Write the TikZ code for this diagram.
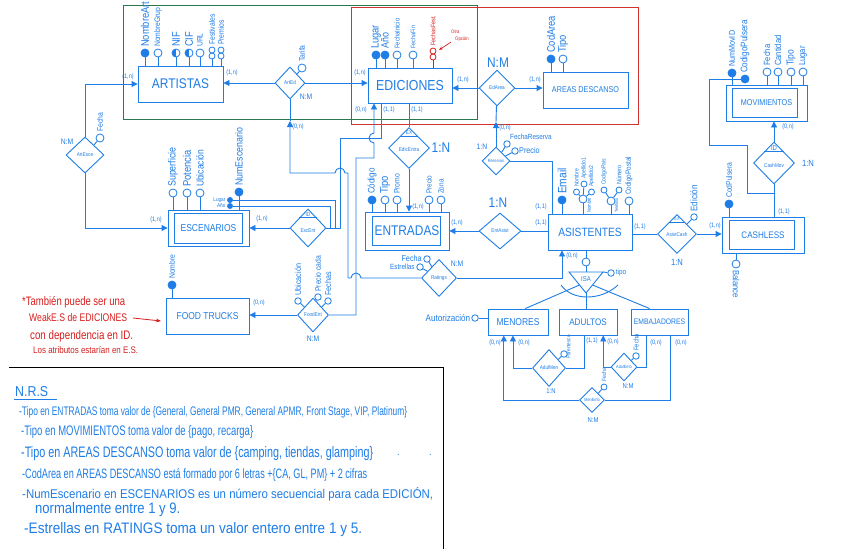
\documentclass[tikz,border=0pt]{standalone}
\usepackage{fontspec}
\setmainfont{Liberation Sans}[FakeStretch=0.85]
\usetikzlibrary{shapes.geometric,arrows.meta,calc}
\definecolor{blu}{RGB}{30,125,230}
\definecolor{grn}{RGB}{40,120,80}
\definecolor{redb}{RGB}{210,50,50}
\definecolor{redt}{RGB}{215,30,30}
\newcommand{\fs}[1]{\fontsize{#1}{#1}\selectfont}
\tikzset{
  ln/.style={draw=blu, line width=0.9pt},
  arr/.style={ln, -{Triangle[length=6pt,width=6pt]}},
  ent/.style={draw=blu, line width=0.9pt, rectangle, text=blu, inner sep=0pt, fill=white},
  rel/.style={draw=blu, line width=0.9pt, diamond, text=blu, inner sep=0pt, font=\fs{5.5}, fill=white},
  rtxt/.style={text=blu, inner sep=0pt, font=\fs{5.5}},
  att/.style={draw=blu, line width=0.8pt, circle, minimum size=8pt, inner sep=0pt, fill=white},
  katt/.style={att, fill=blu},
  halfatt/.style={att, path picture={\fill[blu] (path picture bounding box.north west) rectangle (path picture bounding box.south);}},
  sub/.style={att, minimum size=6pt},
  card/.style={text=blu, inner sep=0pt, font=\fs{6.5}},
  mult/.style={text=blu, inner sep=0pt},
  lab/.style={text=blu, inner sep=0pt},
  vlab/.style={text=blu, inner sep=0pt, rotate=90, anchor=west},
  dlab/.style={text=blu, inner sep=0pt, rotate=-90, anchor=west},
  nrs/.style={text=blu, inner sep=0pt, anchor=west},
  note/.style={text=redt, inner sep=0pt, anchor=west}
}
\newcommand{\VL}[4]{\node[vlab, font=\fs{#3}] (#1) at ($(#2.north)+(0,-1.5)$) {#4};}
\newcommand{\CD}[3]{\node[card] (#1) at #2 {#3};}
\begin{document}
\begin{tikzpicture}[x=1pt,y=-1pt]
\useasboundingbox[fill=white] (0,0) rectangle (848,549);

% group frames
\draw[grn, line width=1pt] (123,5) rectangle (477,119);
\draw[redb, line width=1pt] (351,7) rectangle (638,124);

% ---------------- entities
\node[ent, minimum width=85, minimum height=36, font=\fs{14}] (artistas) at (180.5,84) {ARTISTAS};
\node[ent, minimum width=84, minimum height=35, font=\fs{14.5}] (ediciones) at (410,85.5) {EDICIONES};
\node[ent, minimum width=85, minimum height=36, font=\fs{8.5}] (areas) at (585.5,90) {AREAS DESCANSO};
\node[ent, minimum width=81, minimum height=36, font=\fs{8.5}] (movim) at (766.5,103) {MOVIMIENTOS};
\draw[ln] ($(movim.north west)+(7,4)$) rectangle ($(movim.south east)+(-10,-4)$);
\node[ent, minimum width=81, minimum height=36, font=\fs{10}] (escen) at (208.5,228) {ESCENARIOS};
\draw[ln] ($(escen.north west)+(7,4)$) rectangle ($(escen.south east)+(-7,-3)$);
\node[ent, minimum width=84, minimum height=38, font=\fs{14}] (entradas) at (407,231) {ENTRADAS};
\draw[ln] ($(entradas.north west)+(8,5)$) rectangle ($(entradas.south east)+(-9,-5)$);
\node[ent, minimum width=84, minimum height=36, font=\fs{12}] (asist) at (590,232) {ASISTENTES};
\node[ent, minimum width=82, minimum height=36, font=\fs{9.5}] (cashless) at (763,235) {CASHLESS};
\draw[ln] ($(cashless.north west)+(8,4)$) rectangle ($(cashless.south east)+(-10,-4)$);
\node[ent, minimum width=83, minimum height=36, font=\fs{10}] (food) at (207.5,316) {FOOD TRUCKS};
\node[ent, minimum width=60, minimum height=26, font=\fs{10}] (menores) at (518,322) {MENORES};
\node[ent, minimum width=58, minimum height=26, font=\fs{9.5}] (adultos) at (588,322) {ADULTOS};
\node[ent, minimum width=57, minimum height=26, font=\fs{8}] (embaj) at (659.5,322) {EMBAJADORES};

% ---------------- relationships
\node[rel, minimum width=30, minimum height=32] (ArtEd) at (290,83) {ArtEd};
\node[rel, minimum width=36, minimum height=36] (EdArea) at (497,88) {EdArea};
\node[rel, minimum width=38, minimum height=36] (ArtEsce) at (85,155) {ArtEsce};
\node[rel, minimum width=36, minimum height=38] (EscEnt) at (308,228) {};
\node[rtxt] (EscEntT) at ($(EscEnt.center)+(0,3)$) {EscEnt};
\draw[ln] ($(EscEnt.north)!0.47!(EscEnt.west)$) -- ($(EscEnt.north)!0.47!(EscEnt.east)$);
\node[rtxt] (EscEntID) at ($(EscEnt.north)!0.15!(EscEnt.south)$) {ID};
\node[rel, minimum width=41, minimum height=41] (EdicEntra) at (409,148) {};
\node[rtxt] (EdicEntraT) at ($(EdicEntra.center)+(0,2)$) {EdicEntra};
\draw[ln] ($(EdicEntra.north)!0.45!(EdicEntra.west)$) -- ($(EdicEntra.north)!0.45!(EdicEntra.east)$);
\node[rtxt] (EdicEntraX) at ($(EdicEntra.north)!0.14!(EdicEntra.south)$) {EX};
\node[rel, minimum width=28, minimum height=28, font=\fs{4.5}] (Reservan) at (496,161) {Reservan};
\node[rel, minimum width=42, minimum height=36] (EntAsist) at (500,231) {EntAsist};
\node[rel, minimum width=39, minimum height=39] (AsistCash) at (677,234) {};
\node[rtxt] (AsistCashT) at ($(AsistCash.center)+(0,1)$) {AsistCash};
\draw[ln] ($(AsistCash.north)!0.42!(AsistCash.west)$) -- ($(AsistCash.north)!0.42!(AsistCash.east)$);
\node[rtxt, font=\fs{4.5}] (AsistCashX) at ($(AsistCash.north)!0.13!(AsistCash.south)$) {EX};
\node[rel, minimum width=41, minimum height=42] (CashMov) at (774,163) {};
\node[rtxt] (CashMovT) at ($(CashMov.center)+(0,3)$) {CashMov};
\draw[ln] ($(CashMov.north)!0.47!(CashMov.west)$) -- ($(CashMov.north)!0.47!(CashMov.east)$);
\node[rtxt, font=\fs{7}] (CashMovID) at ($(CashMov.north)!0.15!(CashMov.south)$) {ID};
\node[rel, minimum width=31, minimum height=34] (FoodEnt) at (313,315) {FoodEnt};
\node[rel, minimum width=35, minimum height=37] (Ratings) at (439,278) {Ratings};
\node[rel, minimum width=33, minimum height=37] (AdulMen) at (549,368) {AdulMen};
\node[rel, minimum width=26, minimum height=28, font=\fs{4.5}] (AdulEmb) at (624,367) {AdulEmb};
\node[rel, minimum width=25, minimum height=25, font=\fs{4.5}] (MenEmb) at (592,400) {MenEmb};

% ---------------- ISA
\coordinate (isa1) at (569,272);
\coordinate (isa2) at (603,272);
\coordinate (isa3) at (586,293);
\coordinate (isaL) at (579.5,285);
\coordinate (isaR) at (592.5,285);
\draw[ln] (isa1) -- (isa2) -- (isa3) -- cycle;
\node[rtxt, font=\fs{7}] (isaT) at (586,279) {ISA};
\draw[ln] (561,285) .. controls (572,301) and (601,301) .. (618,285);

% ---------------- attributes: ARTISTAS
\node[katt] (aNA) at (145,53) {}; \VL{aNAl}{aNA}{11}{NombreArt}
\node[att] (aNG) at (158,53) {}; \VL{aNGl}{aNG}{8}{NombreGrup}
\node[halfatt] (aNIF) at (176,53) {}; \VL{aNIFl}{aNIF}{11}{NIF}
\node[halfatt] (aCIF) at (189,53) {}; \VL{aCIFl}{aCIF}{11}{CIF}
\node[att] (aURL) at (200,53) {}; \VL{aURLl}{aURL}{8}{URL}
\node[sub] (aFe2) at (212,56) {}; \node[sub] (aFe1) at (212,50) {}; \VL{aFel}{aFe1}{8}{Festivales}
\node[sub] (aPr2) at (221,56) {}; \node[sub] (aPr1) at (221,50) {}; \VL{aPrl}{aPr1}{8}{Premios}
\foreach \a in {aNA,aNG,aNIF,aCIF,aURL,aFe2,aPr2} \draw[ln] (\a) -- (\a |- artistas.north);

% EDICIONES
\node[katt] (eLu) at (376,55) {}; \VL{eLul}{eLu}{11}{Lugar}
\node[katt] (eAn) at (385,55) {}; \VL{eAnl}{eAn}{10.5}{Año}
\node[att] (eFI) at (397,55) {}; \VL{eFIl}{eFI}{7}{FechaInicio}
\node[att] (eFF) at (413,55) {}; \VL{eFFl}{eFF}{6.5}{FechaFin}
\foreach \a in {eLu,eAn,eFI,eFF} \draw[ln] (\a) -- (\a |- ediciones.north);
\node[sub, draw=redt] (eFs2) at (433,57) {}; \node[sub, draw=redt] (eFs1) at (433,51) {};
\node[vlab, text=redt, font=\fs{6.5}] (eFsl) at ($(eFs1.north)+(0,-1.5)$) {FechasFest.};
\draw[redt, line width=0.9pt] (eFs2) -- (eFs2 |- ediciones.north);
\node[note, font=\fs{5}] (otra1) at (451,32) {Otra};
\node[note, font=\fs{5}] (otra2) at (455,39) {Opción};
\coordinate (oa1) at (451,42); \coordinate (oa2) at (439,50);
\draw[redt, line width=0.7pt, -{Stealth[length=4pt]}] (oa1) -- (oa2);

% ArtEd attribute
\node[att] (tar) at (302,68) {}; \VL{tarl}{tar}{8}{Tarifa}
\draw[ln] (tar) -- (ArtEd);

% AREAS
\node[katt] (arC) at (551,59) {}; \VL{arCl}{arC}{11}{CodArea}
\node[att] (arT) at (563,59) {}; \VL{arTl}{arT}{11}{Tipo}
\foreach \a in {arC,arT} \draw[ln] (\a) -- (\a |- areas.north);

% MOVIMIENTOS
\node[katt] (mvN) at (732,73) {}; \VL{mvNl}{mvN}{8.5}{NumMovID}
\node[katt] (mvC) at (745,79) {}; \VL{mvCl}{mvC}{9.5}{CodigoPulsera}
\node[att] (mvF) at (767,72) {}; \VL{mvFl}{mvF}{9}{Fecha}
\node[att] (mvCa) at (778,72) {}; \VL{mvCal}{mvCa}{9}{Cantidad}
\node[att] (mvT) at (791,72) {}; \VL{mvTl}{mvT}{10}{Tipo}
\node[att] (mvL) at (803,72) {}; \VL{mvLl}{mvL}{9}{Lugar}
\foreach \a in {mvN,mvF,mvCa,mvT,mvL} \draw[ln] (\a) -- (\a |- movim.north);
\coordinate (cp1) at (709,79); \coordinate (cp2) at (709,145);
\coordinate (cp3) at (747,145); \coordinate (cp4) at (747,193);
\coordinate (cp5) at (774,193);
\draw[ln] (mvC) -- (cp1) -- (cp2) -- (cp3) -- (cp4) -- (cp5);

% ESCENARIOS
\node[att] (sSu) at (173,193) {}; \VL{sSul}{sSu}{10.5}{Superficie}
\node[att] (sPo) at (187,193) {}; \VL{sPol}{sPo}{11}{Potencia}
\node[att] (sUb) at (200,193) {}; \VL{sUbl}{sUb}{10}{Ubicación}
\node[katt] (sNE) at (239,192) {}; \VL{sNEl}{sNE}{10.4}{NumEscenario}
\foreach \a in {sSu,sPo,sUb,sNE} \draw[ln] (\a) -- (\a |- escen.north);
\node[katt, minimum size=5pt] (sLu) at (230,200) {};
\node[katt, minimum size=5pt] (sAn) at (230,206) {};
\node[lab, anchor=east, font=\fs{5.5}] (sLul) at ($(sLu.west)+(-1.5,0)$) {Lugar};
\node[lab, anchor=east, font=\fs{5.5}] (sAnl) at ($(sAn.west)+(-1.5,0)$) {Año};
\coordinate (el1) at (335,200); \coordinate (el2) at (335,228);
\coordinate (ea1) at (330,206); \coordinate (ea2) at (330,228);
\draw[ln] (sLu) -- (el1) -- (el2);
\draw[ln] (sAn) -- (ea1) -- (ea2);

% ArtEsce attribute
\node[att] (aeF) at (100,138) {}; \VL{aeFl}{aeF}{8}{Fecha}
\draw[ln] (aeF) -- (ArtEsce);

% ENTRADAS
\node[katt] (nCo) at (372,200) {}; \VL{nCol}{nCo}{9.5}{Código}
\node[att] (nTi) at (385,200) {}; \VL{nTil}{nTi}{11}{Tipo}
\node[att] (nPr) at (397,200) {}; \VL{nPrl}{nPr}{8}{Promo}
\node[att] (nPe) at (429,200) {}; \VL{nPel}{nPe}{7.5}{Precio}
\node[att] (nZo) at (441,200) {}; \VL{nZol}{nZo}{7.5}{Zona}
\foreach \a in {nCo,nTi,nPr,nPe,nZo} \draw[ln] (\a) -- (\a |- entradas.north);

% ASISTENTES
\node[katt] (tEm) at (562,200) {}; \VL{tEml}{tEm}{12}{Email}
\node[att] (nomC) at (583,199) {};
\node[sub] (nom1) at (576.5,192) {}; \VL{nom1l}{nom1}{6}{Nombre}
\node[sub] (nom2) at (584,184) {}; \VL{nom2l}{nom2}{6}{Apellido1}
\node[sub] (nom3) at (591.5,192) {}; \VL{nom3l}{nom3}{6}{Apellido2}
\foreach \a in {nom1,nom2,nom3} \draw[ln] (nomC) -- (\a);
\node[vlab, font=\fs{5}] (nomCl) at (589,213) {Nombre};
\node[att] (telC) at (611,201) {};
\node[sub] (tel1) at (604,190) {}; \VL{tel1l}{tel1}{6}{CodigoPais}
\node[sub] (tel2) at (619,190) {}; \VL{tel2l}{tel2}{6.5}{Número}
\foreach \a in {tel1,tel2} \draw[ln] (telC) -- (\a);
\node[vlab, font=\fs{4.5}] (telCl) at (616.5,213) {Teléfono};
\node[att] (tCP) at (629,201) {}; \VL{tCPl}{tCP}{7.5}{CodigoPostal}
\foreach \a in {tEm,nomC,telC,tCP} \draw[ln] (\a) -- (\a |- asist.north);

% Reservan attributes
\node[att, minimum size=6.5pt] (rFR) at (507,144) {};
\node[att, minimum size=6.5pt] (rPr) at (515,151) {};
\node[lab, anchor=west, font=\fs{7.5}] (rFRl) at (510,137) {FechaReserva};
\node[lab, anchor=west, font=\fs{8.5}] (rPrl) at (519,150) {Precio};
\draw[ln] (rFR) -- (Reservan); \draw[ln] (rPr) -- (Reservan);

% CASHLESS
\node[katt] (cCP) at (729,204) {}; \VL{cCPl}{cCP}{8}{CodPulsera}
\draw[ln] (cCP) -- (cCP |- cashless.north);
\node[att] (cBa) at (736,264) {};
\node[dlab, font=\fs{9}] (cBal) at ($(cBa.south)+(0,1.5)$) {Balance};
\draw[ln] (cBa) -- (cBa |- cashless.south);

% AsistCash attribute
\node[att, minimum size=6.5pt] (acE) at (694,217) {}; \VL{acEl}{acE}{9.5}{Edición}
\draw[ln] (acE) -- (AsistCash);

% FOOD TRUCKS
\node[katt] (fN) at (172,285) {}; \VL{fNl}{fN}{8}{Nombre}
\draw[ln] (fN) -- (fN |- food.north);
\node[att, minimum size=6.5pt] (feU) at (298,301) {}; \VL{feUl}{feU}{8.5}{Ubicación}
\node[att, minimum size=6.5pt] (feP) at (318,297) {}; \VL{fePl}{feP}{8}{Precio cada}
\node[att, minimum size=6.5pt] (feF) at (328,301) {}; \VL{feFl}{feF}{8.5}{Fechas}
\foreach \a in {feU,feP,feF} \draw[ln] (\a) -- (FoodEnt);

% Ratings attributes
\node[att, minimum size=6.5pt] (raF) at (427,259) {};
\node[att, minimum size=6.5pt] (raE) at (420,267) {};
\node[lab, anchor=east, font=\fs{8.5}] (raFl) at ($(raF.west)+(-1.5,-1)$) {Fecha};
\node[lab, anchor=east, font=\fs{7.5}] (raEl) at ($(raE.west)+(-1.5,0)$) {Estrellas};
\draw[ln] (raF) -- (Ratings); \draw[ln] (raE) -- (Ratings);

% ISA attributes
\node[att] (isaC) at (586,262) {};
\draw[ln] (asist.south -| isaC) -- (isaC);
\draw[ln] (isaC) -- (isaC |- isa1);
\node[att, minimum size=6.5pt] (tipo) at (611,273) {};
\node[lab, anchor=west, font=\fs{7.5}] (tipol) at ($(tipo.east)+(1,0)$) {tipo};
\draw[ln] (isa2) -- (tipo);
\coordinate (menT) at ($(menores.north west)!0.62!(menores.north east)$);
\coordinate (embT) at ($(embaj.north west)!0.33!(embaj.north east)$);
\draw[ln] (isaL) -- (menT);
\draw[ln] (isa3) -- (isa3 |- adultos.north);
\draw[ln] (isaR) -- (embT);
\node[att, minimum size=6.5pt] (aut) at (475,318) {};
\node[lab, anchor=east, font=\fs{9.5}] (autl) at ($(aut.west)+(-1,0)$) {Autorización};
\draw[ln] (aut) -- (aut -| menores.west);

% subtype relationships
\coordinate (menB1) at ($(menores.south west)!0.417!(menores.south east)$);
\coordinate (menB2) at ($(menores.south west)!0.267!(menores.south east)$);
\coordinate (adB1) at ($(adultos.south west)!0.448!(adultos.south east)$);
\coordinate (adB2) at ($(adultos.south west)!0.759!(adultos.south east)$);
\coordinate (emB1) at ($(embaj.south west)!0.28!(embaj.south east)$);
\coordinate (emB2) at ($(embaj.south west)!0.684!(embaj.south east)$);
\draw[arr] (AdulMen) -| (menB1);
\draw[ln] (AdulMen) -| (adB1);
\draw[arr] (AdulEmb) -| (adB2);
\draw[ln] (AdulEmb) -| (emB1);
\draw[arr] (MenEmb) -| (menB2);
\draw[ln] (MenEmb) -| (emB2);
\node[att, minimum size=6.5pt] (amP) at (564,354) {};
\node[vlab, font=\fs{5.5}] (amPl) at (568.5,359) {Parentesco};
\draw[ln] (amP) -- (AdulMen);
\node[att, minimum size=6.5pt] (aeb) at (636,356) {}; \VL{aebl}{aeb}{7}{Fecha}
\draw[ln] (aeb) -- (AdulEmb);
\node[att, minimum size=6pt] (meF) at (604,387) {}; \VL{meFl}{meF}{6}{Fecha}
\draw[ln] (meF) -- (MenEmb);

% ---------------- connectors
\draw[arr] (ArtEd) -- (ArtEd -| artistas.east);
\draw[arr] (ArtEd) -- (ArtEd -| ediciones.west);
\draw[arr] (ArtEsce.north) |- (artistas.west);
\draw[arr] (ArtEsce.south) |- (escen.west);
\draw[arr] (EscEnt) -- (EscEnt -| escen.east);
\coordinate (ee1) at (340,228); \coordinate (ee2) at (340,138); \coordinate (ee3) at (381,138);
\draw[ln] (EscEnt.east) -- (ee1) -- (ee2) -- (ee3) -- (ee3 |- ediciones.south);
\coordinate (fe1) at (356,315); \coordinate (fe2) at (356,158); \coordinate (fe3) at (374,158);
\draw[arr] (FoodEnt.east) -- (fe1) -- (fe2) -- (fe3) -- (374,143) arc(90:270:5) -- (fe3 |- ediciones.south);
\draw[arr] (FoodEnt) -- (FoodEnt -| food.east);
\draw[ln] (ediciones.south -| EdicEntra) -- (EdicEntra);
\draw[arr] (EdicEntra) -- (EdicEntra |- entradas.north);
\draw[arr] (EntAsist) -- (EntAsist -| entradas.east);
\draw[ln] (EntAsist) -- (EntAsist -| asist.west);
\coordinate (rs1) at (552,161);
\draw[ln] (Reservan) -- (rs1) -- (rs1 |- asist.north);
\coordinate (rs2) at (496,122);
\draw[arr] (Reservan) -- (rs2);
\draw[ln] (rs2) -- (EdArea);
\draw[arr] (EdArea) -- (EdArea -| ediciones.east);
\draw[arr] (EdArea) -- (EdArea -| areas.west);
\coordinate (ar0) at (290,121); \coordinate (ar1) at (290,173);
\coordinate (ar2) at (348,173); \coordinate (ar3) at (348,278);
\draw[arr] (Ratings) -- (361,278) arc(0:-180:5) -- (ar3) -- (ar2) -- (345,173) arc(0:-180:5) -- (ar1) -- (ar0);
\draw[ln] (ar0) -- (ArtEd);
\coordinate (rt1) at (562,278);
\draw[arr] (Ratings) -- (rt1) -- (rt1 |- asist.south);
\draw[ln] (asist.east |- AsistCash) -- (AsistCash);
\draw[arr] (AsistCash) -- (AsistCash -| cashless.west);
\draw[arr] (CashMov) -- (CashMov |- movim.south);
\draw[ln] (CashMov) -- (CashMov |- cashless.north);

% ---------------- cardinalities
\CD{c1}{(232,73)}{(1,n)}
\CD{c2}{(128,77)}{(1,n)}
\CD{c3}{(360,73)}{(1,n)}
\CD{c4}{(463,80)}{(1,n)}
\CD{c5}{(535,80)}{(1,n)}
\CD{c6}{(361,110)}{(0,n)}
\CD{c7}{(389,110)}{(1,1)}
\CD{c8}{(417,110)}{(1,1)}
\CD{c9}{(298,127)}{(0,n)}
\CD{c10}{(505,128)}{(0,n)}
\CD{c11}{(156,220)}{(1,n)}
\CD{c12}{(262,219)}{(1,n)}
\CD{c13}{(418,207)}{(1,n)}
\CD{c14}{(457,223)}{(1,n)}
\CD{c15}{(541,223)}{(1,1)}
\CD{c16}{(541,207)}{(1,1)}
\CD{c17}{(572,256)}{(0,n)}
\CD{c18}{(640,227)}{(1,1)}
\CD{c19}{(715,226)}{(1,n)}
\CD{c20}{(784,212)}{(1,1)}
\CD{c21}{(788,127)}{(0,n)}
\CD{c22}{(259,303)}{(0,n)}
\CD{c23}{(495,343)}{(0,n)}
\CD{c24}{(524,343)}{(0,n)}
\CD{c25}{(592,341)}{(1,1)}
\CD{c26}{(613,342)}{(0,n)}
\CD{c27}{(656,343)}{(0,n)}
\CD{c28}{(681,343)}{(0,n)}

% ---------------- multiplicities
\node[mult, font=\fs{8}] (m1) at (306,97) {N:M};
\node[mult, font=\fs{14}] (m2) at (498,63) {N:M};
\node[mult, font=\fs{8}] (m3) at (67,142) {N:M};
\node[mult, font=\fs{14}] (m4) at (441,148) {1:N};
\node[mult, font=\fs{14}] (m5) at (498,203) {1:N};
\node[mult, font=\fs{8}] (m6) at (482,147) {1:N};
\node[mult, font=\fs{9}] (m7) at (808,163) {1:N};
\node[mult, font=\fs{9}] (m8) at (677,262) {1:N};
\node[mult, font=\fs{8}] (m9) at (313,339) {N:M};
\node[mult, font=\fs{8}] (m10) at (457,264) {N:M};
\node[mult, font=\fs{7}] (m11) at (551,391) {1:N};
\node[mult, font=\fs{7}] (m12) at (628,386) {N:M};
\node[mult, font=\fs{7}] (m13) at (593,420) {N:M};

% ---------------- red note
\node[note] (rn1) at (22,302) {\resizebox{103pt}{9pt}{*También puede ser una}};
\node[note] (rn2) at (29,318) {\resizebox{98pt}{8pt}{WeakE.S de EDICIONES}};
\node[note] (rn3) at (30,336) {\resizebox{103pt}{9pt}{con dependencia en ID.}};
\node[note] (rn4) at (33,350) {\resizebox{105pt}{7pt}{Los atributos estarían en E.S.}};
\coordinate (na1) at (133,318); \coordinate (na2) at (161,321);
\draw[redt, line width=0.8pt, -{Stealth[length=5pt]}] (na1) -- (na2);

% ---------------- N.R.S. box
\coordinate (nb1) at (9,367); \coordinate (nb2) at (443,367); \coordinate (nb3) at (443,549);
\draw[black, line width=1pt] (nb1) -- (nb2) -- (nb3);
\node[nrs] (nrs0) at (15,392) {\resizebox{33pt}{10pt}{N.R.S}};
\draw[blu, line width=0.8pt] (14,399) -- (57,399);
\node[nrs] (nrs1) at (19,412) {\resizebox{388pt}{9pt}{-Tipo en ENTRADAS toma valor de \{General, General PMR, General APMR, Front Stage, VIP, Platinum\}}};
\node[nrs] (nrs2) at (21,432) {\resizebox{232pt}{10pt}{-Tipo en MOVIMIENTOS toma valor de \{pago, recarga\}}};
\node[nrs] (nrs3) at (21,454) {\resizebox{352pt}{11pt}{-Tipo en AREAS DESCANSO toma valor de \{camping, tiendas, glamping\}}};
\node[nrs, font=\fs{11}] (nrsd1) at (397,455) {.};
\node[nrs, font=\fs{11}] (nrsd2) at (429,455) {.};
\node[nrs] (nrs4) at (22,475) {\resizebox{345pt}{10pt}{-CodArea en AREAS DESCANSO está formado por 6 letras +\{CA, GL, PM\} + 2 cifras}};
\node[nrs] (nrs5) at (22,494) {\resizebox{411pt}{11pt}{-NumEscenario en ESCENARIOS es un número secuencial para cada EDICIÓN,}};
\node[nrs] (nrs6) at (35,510) {\resizebox{145pt}{11pt}{normalmente entre 1 y 9.}};
\node[nrs] (nrs7) at (24,530) {\resizebox{338pt}{11pt}{-Estrellas en RATINGS toma un valor entero entre 1 y 5.}};
\end{tikzpicture}
\end{document}
